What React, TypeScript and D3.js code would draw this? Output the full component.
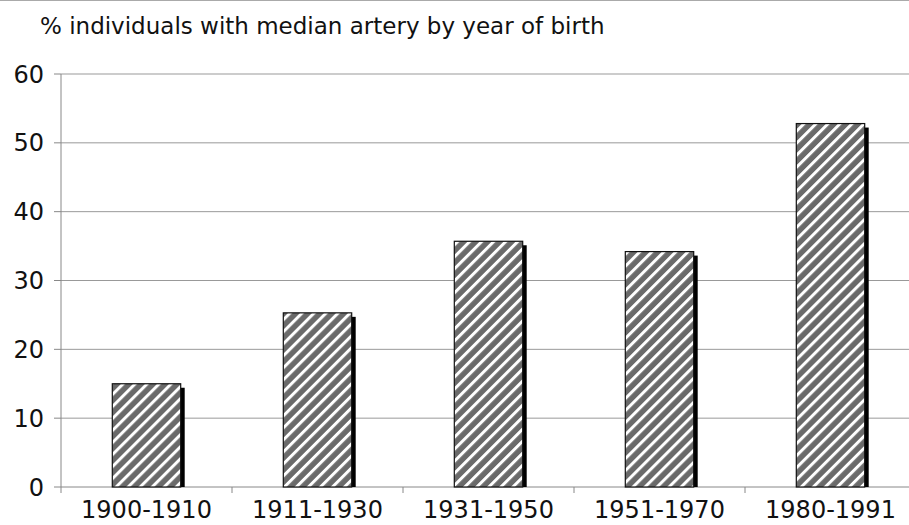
import React from 'react';
import * as d3 from 'd3';

const categories = ['1900-1910', '1911-1930', '1931-1950', '1951-1970', '1980-1991'];
const values = [15, 25.3, 35.7, 34.2, 52.8];
const yTicks = [0, 10, 20, 30, 40, 50, 60];
const title = '% individuals with median artery by year of birth';

const App = () => {
    const width = 909;
    const height = 525;
    const margin = { top: 74, left: 61, bottom: 38 };
    const step = 171;

    const x = d3.scaleBand()
        .domain(categories)
        .range([margin.left, margin.left + step * categories.length])
        .paddingInner(0.6)
        .paddingOuter(0.3);

    const y = d3.scaleLinear()
        .domain([0, 60])
        .range([height - margin.bottom, margin.top]);

    const font = '"DejaVu Sans", Verdana, sans-serif';
    const bw = x.bandwidth();

    return (
        <svg width={width} height={height} style={{ position: 'absolute', left: 0, top: 0 }}>
            <defs>
                <pattern id="hatch" patternUnits="userSpaceOnUse" width={8.5} height={8.5}
                    patternTransform="rotate(45)">
                    <rect width={8.5} height={8.5} fill="#6a6a6a" />
                    <rect x={0} width={3} height={8.5} fill="#ffffff" />
                </pattern>
            </defs>
            <rect width={width} height={height} fill="#fff" />
            <line x1={0} x2={width} y1={0.5} y2={0.5} stroke="#aaa" />
            <text x={40} y={34} fontFamily={font} fontSize={23} fill="#111">{title}</text>

            {yTicks.map(t => (
                <g key={t}>
                    {t > 0 && <line x1={margin.left} x2={width} y1={y(t)} y2={y(t)} stroke="#999" strokeWidth={1} />}
                    <line x1={margin.left - 7} x2={margin.left} y1={y(t)} y2={y(t)} stroke="#888" />
                    <text x={44} y={y(t)} dy="0.36em" textAnchor="end" fontFamily={font} fontSize={24} fill="#111">{t}</text>
                </g>
            ))}
            <line x1={margin.left} x2={margin.left} y1={y(60)} y2={y(0) + 6} stroke="#888" />
            <line x1={margin.left} x2={width} y1={y(0)} y2={y(0)} stroke="#888" />
            {categories.map((c, i) => (
                <line key={c} x1={margin.left + step * (i + 1)} x2={margin.left + step * (i + 1)}
                    y1={y(0)} y2={y(0) + 6} stroke="#888" />
            ))}

            {categories.map((c, i) => {
                const bx = x(c) as number;
                const by = y(values[i]);
                const bh = y(0) - by;
                return (
                    <g key={c}>
                        <rect x={bx + 4} y={by + 4} width={bw} height={bh - 4} fill="#000" />
                        <rect x={bx} y={by} width={bw} height={bh} fill="url(#hatch)" stroke="#111" strokeWidth={1.2} />
                        <text x={bx + bw / 2} y={518} textAnchor="middle" fontFamily={font} fontSize={24} fill="#111">{c}</text>
                    </g>
                );
            })}
        </svg>
    );
};

export default App;
